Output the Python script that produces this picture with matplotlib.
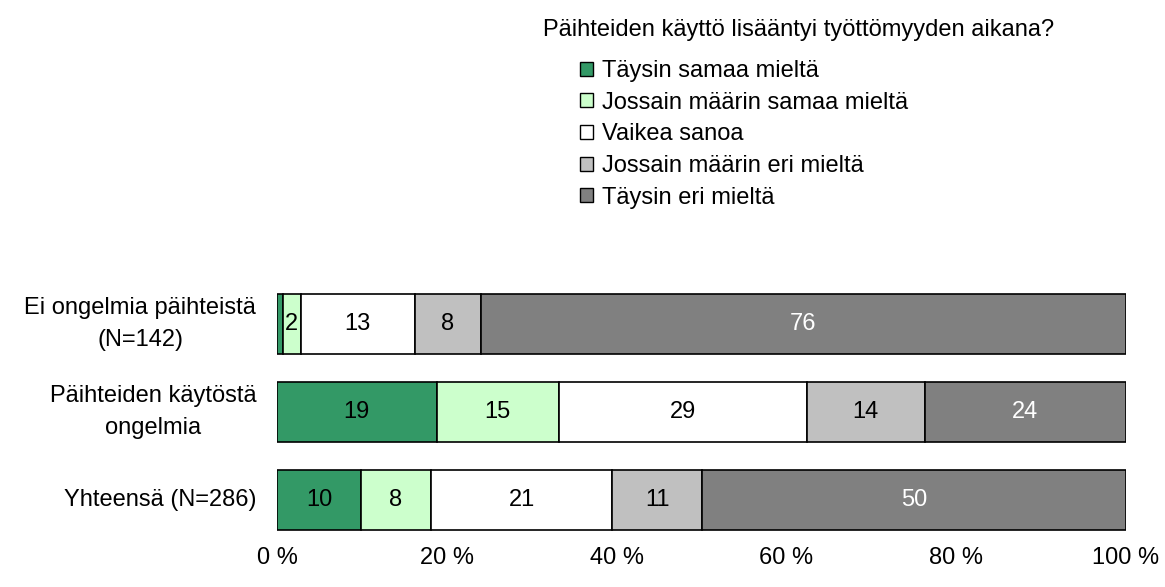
import matplotlib
matplotlib.use('Agg')
import matplotlib.pyplot as plt
from matplotlib.patches import Patch

plt.rcParams['font.family'] = ['Liberation Sans', 'DejaVu Sans']

groups = ['Ei ongelmia päihteistä\n(N=142)', 'Päihteiden käytöstä\nongelmia', 'Yhteensä (N=286)']
answers = ['Täysin samaa mieltä', 'Jossain määrin samaa mieltä', 'Vaikea sanoa',
           'Jossain määrin eri mieltä', 'Täysin eri mieltä']
colors = ['#339966', '#CCFFCC', '#FFFFFF', '#C0C0C0', '#808080']
text_colors = ['black', 'black', 'black', 'black', 'white']

# shares in percent per group
values = [
    [0.7, 2.1, 13.4, 7.8, 76.0],
    [18.8, 14.4, 29.2, 13.9, 23.7],
    [9.9, 8.2, 21.4, 10.6, 49.9],
]
labels = [
    ['', '2', '13', '8', '76'],
    ['19', '15', '29', '14', '24'],
    ['10', '8', '21', '11', '50'],
]
title = 'Päihteiden käyttö lisääntyi työttömyyden aikana?'
fs = 17

fig = plt.figure(figsize=(11.65, 5.87), dpi=100)
ax = fig.add_axes([277 / 1165, 1 - 544 / 587, 849 / 1165, 264 / 587])

for i, row in enumerate(values):
    left = 0
    for j, v in enumerate(row):
        ax.barh(i, v, left=left, height=0.68, color=colors[j], edgecolor='black', linewidth=1.2)
        if labels[i][j]:
            ax.text(left + v / 2, i, labels[i][j], ha='center', va='center',
                    fontsize=fs, color=text_colors[j])
        left += v

ax.set_xlim(0, 100)
ax.set_ylim(2.5, -0.5)
ax.set_xticks([0, 20, 40, 60, 80, 100])
ax.set_xticklabels(['0 %', '20 %', '40 %', '60 %', '80 %', '100 %'], fontsize=fs)
ax.set_yticks(range(len(groups)))
ax.set_yticklabels(groups, fontsize=fs, multialignment='center', linespacing=1.6)
for lbl in ax.get_yticklabels():
    lbl.set_va('center')
ax.tick_params(length=0, axis='x', pad=2)
ax.tick_params(length=0, axis='y', pad=15)
for s in ax.spines.values():
    s.set_visible(False)

fig.text(799 / 1165, 1 - 30 / 587, title, ha='center', va='center', fontsize=fs)
handles = [Patch(facecolor=c, edgecolor='black', linewidth=1) for c in colors]
fig.legend(handles, answers, loc='upper left', bbox_to_anchor=(580 / 1165, 1 - 60 / 587),
           frameon=False, fontsize=fs, handlelength=0.55, handleheight=0.55,
           handletextpad=0.4, labelspacing=0.41, borderpad=0, borderaxespad=0)

fig.savefig('out.png', dpi=100)
